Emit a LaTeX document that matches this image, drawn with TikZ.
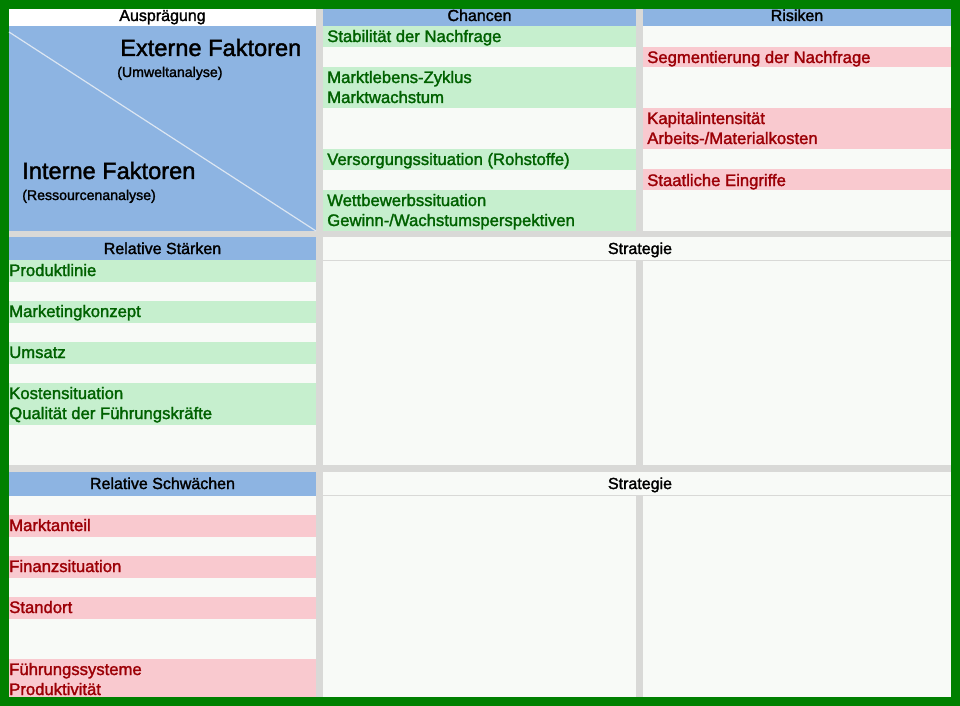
\documentclass[tikz,border=0pt]{standalone}
\usepackage{fontspec}
\setmainfont{Liberation Sans}[FakeBold=1.7]
\definecolor{frame}{HTML}{008000}
\definecolor{gap}{HTML}{D9D9D7}
\definecolor{hblue}{HTML}{8DB4E2}
\definecolor{offw}{HTML}{F8FAF7}
\definecolor{gfill}{HTML}{C6EFCE}
\definecolor{gtext}{HTML}{006100}
\definecolor{pfill}{HTML}{F9C9CF}
\definecolor{ptext}{HTML}{9C0006}
\definecolor{diag}{HTML}{DCE6F2}
\begin{document}
\begin{tikzpicture}[x=0.75pt,y=-0.75pt,
  txt/.style={anchor=base west,inner sep=0pt,font=\fontsize{12.5}{15}\selectfont},
  gt/.style={txt,text=gtext},
  rt/.style={txt,text=ptext},
  head/.style={anchor=base,inner sep=0pt,font=\fontsize{12}{14}\selectfont,text=black},
  big/.style={anchor=base west,inner sep=0pt,font=\fontsize{17.7}{20}\selectfont,text=black},
  small/.style={anchor=base west,inner sep=0pt,font=\fontsize{10.6}{12}\selectfont,text=black}]
\useasboundingbox (0,0) rectangle (960,706);
% frame and gap background
\fill[frame] (0,0) rectangle (960,706);
\fill[gap] (9,9) rectangle (951,697);
% ---------- top section ----------
\fill[white] (9,9) rectangle (316,26);
\fill[hblue] (9,26) rectangle (316,231);
\draw[diag,line width=0.9pt] (9,32) -- (316,231);
\fill[hblue] (323,9) rectangle (636,26);
\fill[hblue] (643,9) rectangle (951,26);
\fill[offw] (323,26) rectangle (636,231);
\fill[offw] (643,26) rectangle (951,231);
% Chancen rows
\fill[gfill] (323,26) rectangle (636,47);
\fill[gfill] (323,67) rectangle (636,108);
\fill[gfill] (323,149) rectangle (636,170);
\fill[gfill] (323,190) rectangle (636,231);
% Risiken rows
\fill[pfill] (643,47) rectangle (951,67.5);
\fill[pfill] (643,108) rectangle (951,149.5);
\fill[pfill] (643,169.5) rectangle (951,190.5);
% ---------- middle section ----------
\fill[hblue] (9,237) rectangle (316,260);
\fill[offw] (9,260) rectangle (316,465);
\fill[gfill] (9,260) rectangle (316,282);
\fill[gfill] (9,301) rectangle (316,323);
\fill[gfill] (9,342) rectangle (316,364);
\fill[gfill] (9,383) rectangle (316,425);
\fill[offw] (323,237) rectangle (951,260);
\fill[offw] (323,261) rectangle (636,465);
\fill[offw] (643,261) rectangle (951,465);
% ---------- bottom section ----------
\fill[hblue] (9,472) rectangle (316,496);
\fill[offw] (9,496) rectangle (316,697);
\fill[pfill] (9,515) rectangle (316,537);
\fill[pfill] (9,556) rectangle (316,578);
\fill[pfill] (9,597) rectangle (316,619);
\fill[pfill] (9,659) rectangle (316,697);
\fill[offw] (323,472) rectangle (951,495);
\fill[offw] (323,496) rectangle (636,697);
\fill[offw] (643,496) rectangle (951,697);
% ---------- headers ----------
\node[head] (hA) at (162.5,21) {Ausprägung};
\node[head] (hC) at (479.5,21) {Chancen};
\node[head] (hR) at (797,21) {Risiken};
\node[head] (hS) at (162.5,254) {Relative Stärken};
\node[head] (hSt1) at (640,254) {Strategie};
\node[head] (hW) at (162.5,489) {Relative Schwächen};
\node[head] (hSt2) at (640,489) {Strategie};
% ---------- corner texts ----------
\node[big] (ext) at (120,56) {Externe Faktoren};
\node[small] (umw) at (117,77) {(Umweltanalyse)};
\node[big] (int) at (22,179) {Interne Faktoren};
\node[small] (res) at (22,200) {(Ressourcenanalyse)};
% ---------- Chancen ----------
\node[gt] (c1) at (327,42) {Stabilität der Nachfrage};
\node[gt] (c2) at (327,83) {Marktlebens-Zyklus};
\node[gt] (c3) at (327,103) {Marktwachstum};
\node[gt] (c4) at (327,165) {Versorgungssituation (Rohstoffe)};
\node[gt] (c5) at (327,206) {Wettbewerbssituation};
\node[gt] (c6) at (327,226) {Gewinn-/Wachstumsperspektiven};
% ---------- Risiken ----------
\node[rt] (r1) at (647,63) {Segmentierung der Nachfrage};
\node[rt] (r2) at (647,124) {Kapitalintensität};
\node[rt] (r3) at (647,144) {Arbeits-/Materialkosten};
\node[rt] (r4) at (647,186) {Staatliche Eingriffe};
% ---------- Stärken ----------
\node[gt] (s1) at (9,276) {Produktlinie};
\node[gt] (s2) at (9,317) {Marketingkonzept};
\node[gt] (s3) at (9,358) {Umsatz};
\node[gt] (s4) at (9,399) {Kostensituation};
\node[gt] (s5) at (9,419) {Qualität der Führungskräfte};
% ---------- Schwächen ----------
\node[rt] (w1) at (9,531) {Marktanteil};
\node[rt] (w2) at (9,572) {Finanzsituation};
\node[rt] (w3) at (9,613) {Standort};
\node[rt] (w4) at (9,675) {Führungssysteme};
\node[rt] (w5) at (9,695) {Produktivität};
\end{tikzpicture}
\end{document}
